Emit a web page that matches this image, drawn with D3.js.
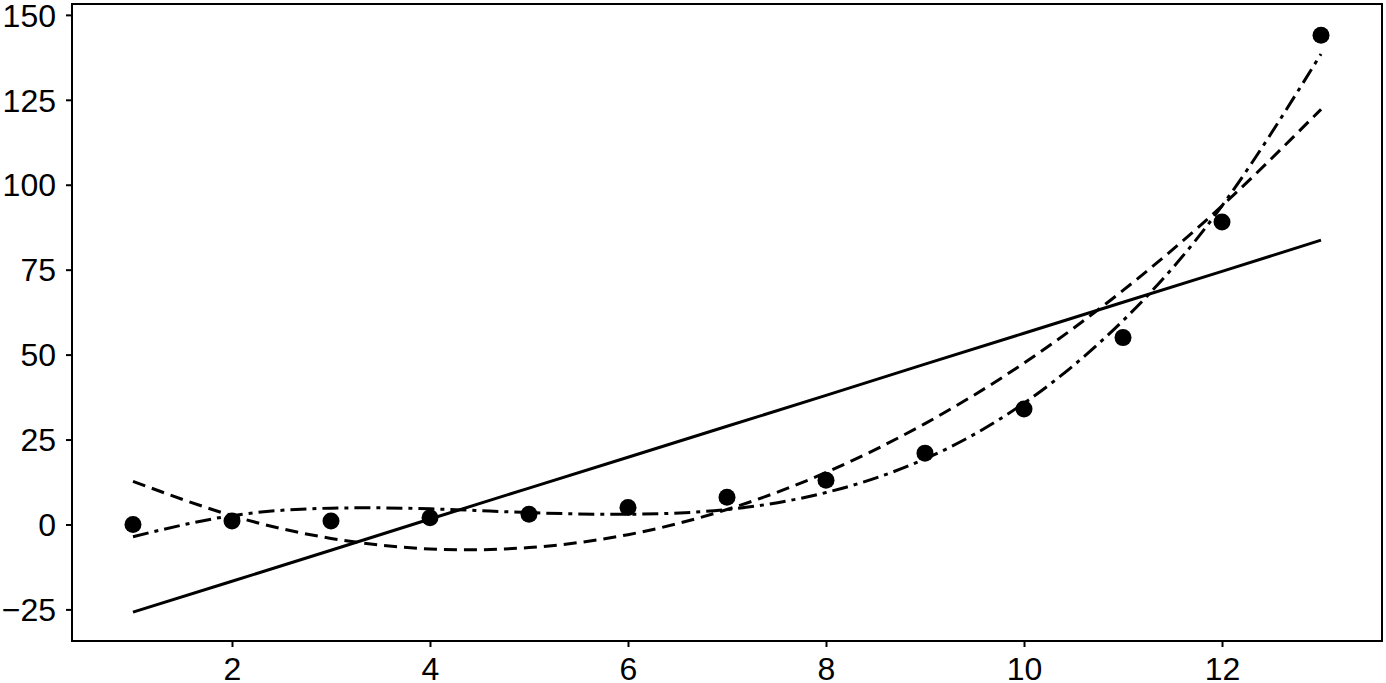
<!DOCTYPE html>
<html>
<head>
<meta charset="utf-8">
<script src="https://cdn.jsdelivr.net/npm/d3@7"></script>
<style>
  body { margin: 0; background: #fff; }
  svg text { font-family: "Liberation Sans", Arial, sans-serif; fill: #000; }
</style>
</head>
<body>
<div class="chart"></div>
<script>
var svgWidth = 1386;
var svgHeight = 683;

// observed values
var xValues = [1, 2, 3, 4, 5, 6, 7, 8, 9, 10, 11, 12, 13];
var observed = [0, 1, 1, 2, 3, 5, 8, 13, 21, 34, 55, 89, 144];

// fitted lines at each x
var linearFit = [-25.8, -16.7, -7.6, 1.6, 10.7, 19.8, 28.9, 38.0, 47.2, 56.3, 65.4, 74.5, 83.7];
var quadFit = [12.7, 2.6, -4.1, -7.2, -6.8, -3.0, 4.4, 15.3, 29.7, 47.5, 68.9, 93.8, 122.2];
var cubicFit = [-3.6, 2.6, 4.8, 4.6, 3.5, 3.0, 4.4, 9.4, 19.3, 35.7, 60.0, 93.8, 138.5];

var yTicks = [-25, 0, 25, 50, 75, 100, 125, 150];
var xTicks = [2, 4, 6, 8, 10, 12];

var margin = { top: 4, right: 4, bottom: 42, left: 72 };
var width = svgWidth - margin.left - margin.right;
var height = svgHeight - margin.top - margin.bottom;

var svg = d3.select(".chart")
  .append("svg")
  .attr("width", svgWidth)
  .attr("height", svgHeight);

var chartGroup = svg.append("g")
  .attr("transform", `translate(${margin.left}, ${margin.top})`);

var xScale = d3.scaleLinear()
  .domain([0.384, 13.616])
  .range([0, width]);

var yScale = d3.scaleLinear()
  .domain([-34.3, 153.2])
  .range([height, 0]);

// axes
var bottomAxis = d3.axisBottom(xScale)
  .tickValues(xTicks)
  .tickSize(6)
  .tickPadding(10);

var leftAxis = d3.axisLeft(yScale)
  .tickValues(yTicks)
  .tickSize(6)
  .tickPadding(10);

var xAxis = chartGroup.append("g")
  .attr("transform", `translate(0, ${height})`)
  .call(bottomAxis);

var yAxis = chartGroup.append("g")
  .call(leftAxis);

[xAxis, yAxis].forEach(function(ax) {
  ax.select(".domain").remove();
  ax.selectAll(".tick line").attr("stroke", "#000").attr("stroke-width", 2);
  ax.selectAll(".tick text")
    .attr("font-size", "32px")
    .attr("font-family", "'Liberation Sans', Arial, sans-serif")
    .attr("fill", "#000");
});
yAxis.selectAll(".tick text").attr("dy", "0.35em");
xAxis.selectAll(".tick text").attr("dy", "0.71em");

// frame
chartGroup.append("rect")
  .attr("x", 0)
  .attr("y", 0)
  .attr("width", width)
  .attr("height", height)
  .attr("fill", "none")
  .attr("stroke", "#000")
  .attr("stroke-width", 2);

function makeLine(values, curve) {
  return d3.line()
    .x((d, i) => xScale(xValues[i]))
    .y(d => yScale(d))
    .curve(curve)(values);
}

// linear fit
chartGroup.append("path")
  .attr("d", makeLine(linearFit, d3.curveLinear))
  .attr("fill", "none")
  .attr("stroke", "#000")
  .attr("stroke-width", 3);

// quadratic fit
chartGroup.append("path")
  .attr("d", makeLine(quadFit, d3.curveNatural))
  .attr("fill", "none")
  .attr("stroke", "#000")
  .attr("stroke-width", 3)
  .attr("stroke-dasharray", "13,7");

// cubic fit
chartGroup.append("path")
  .attr("d", makeLine(cubicFit, d3.curveNatural))
  .attr("fill", "none")
  .attr("stroke", "#000")
  .attr("stroke-width", 3)
  .attr("stroke-dasharray", "16,6,4,6");

// observed points
chartGroup.selectAll("circle")
  .data(observed)
  .enter()
  .append("circle")
  .attr("cx", (d, i) => xScale(xValues[i]))
  .attr("cy", d => yScale(d))
  .attr("r", 8.5)
  .attr("fill", "#000");
</script>
</body>
</html>
